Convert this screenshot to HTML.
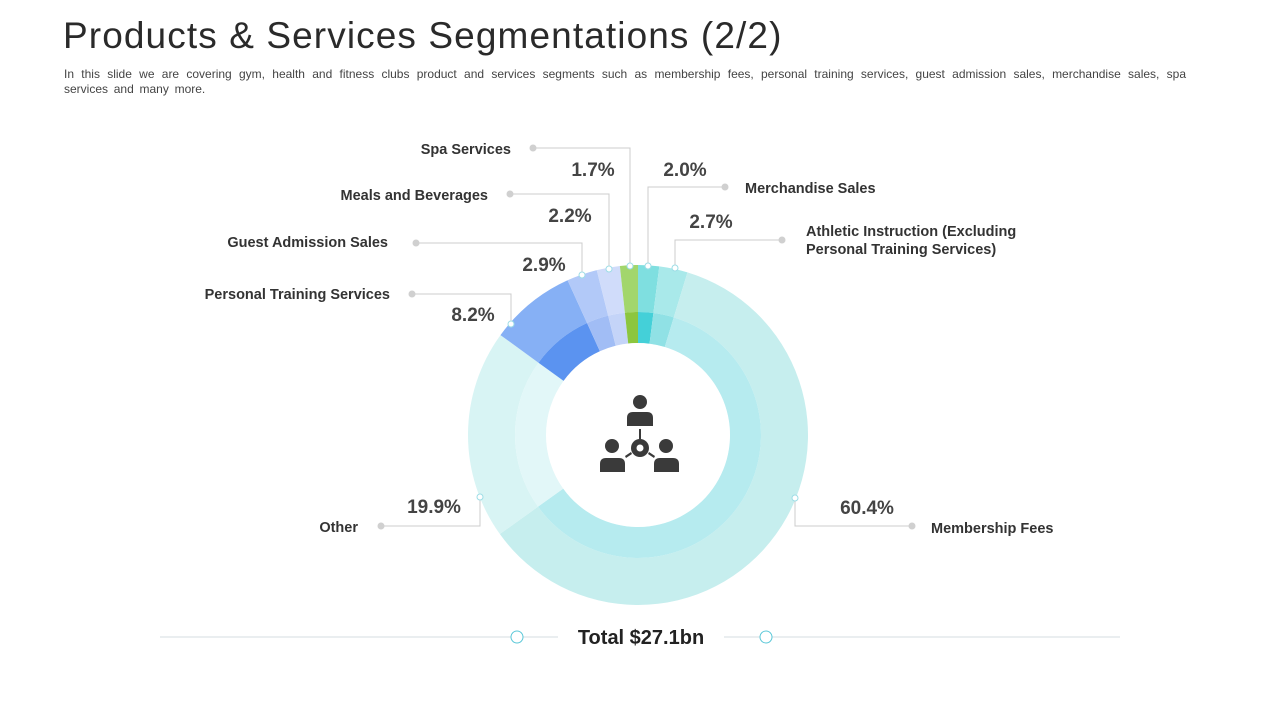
<!DOCTYPE html>
<html><head><meta charset="utf-8"><style>
body{margin:0;width:1280px;height:720px;background:#fff;overflow:hidden;font-family:"Liberation Sans",sans-serif}
#title{position:absolute;left:63px;top:15px;font-size:37px;color:#2a2a2a;letter-spacing:1.1px;margin:0;font-weight:normal}
#sub{position:absolute;left:64px;top:67px;width:1122px;font-size:12px;line-height:15px;color:#444;text-align:justify;word-spacing:2.4px}
</style></head><body>
<h1 id="title">Products &amp; Services Segmentations (2/2)</h1>
<div id="sub">In this slide we are covering gym, health and fitness clubs product and services segments such as membership fees, personal training services, guest admission sales, merchandise sales, spa services and many more.</div>
<svg id="chart" width="1280" height="720" style="position:absolute;left:0;top:0"></svg>
<script>
const categories=["Merchandise Sales","Athletic Instruction","Membership Fees","Other","Personal Training Services","Guest Admission Sales","Meals and Beverages","Spa Services"];
const values=[2.0,2.7,60.4,19.9,8.2,2.9,2.2,1.7];
const valueLabels=["2.0%","2.7%","60.4%","19.9%","8.2%","2.9%","2.2%","1.7%"];
const outerColors=["#7fdfe0","#a9e9ea","#c6eeee","#d8f4f4","#86b0f5","#b2c9f8","#d0dcfa","#a2d66c"];
const innerColors=["#44d0d8","#90e1e5","#b6ebef","#e2f7f8","#5b93f0","#a1bdf5","#c4d4f8","#8cc63f"];
const NS="http://www.w3.org/2000/svg";
const svg=document.getElementById('chart');
const cx=638,cy=435,R1=170,R2=123,R3=92,R4=87;
const total=values.reduce((a,b)=>a+b,0);
function ang(v){return v/total*2*Math.PI;}
function pt(r,a){return [cx+r*Math.sin(a),cy-r*Math.cos(a)];}
function arc(r0,r1,a0,a1){const l=a1-a0>Math.PI?1:0;const p=pt(r1,a0),q=pt(r1,a1),s=pt(r0,a1),t=pt(r0,a0);
return `M${p}A${r1},${r1} 0 ${l} 1 ${q}L${s}A${r0},${r0} 0 ${l} 0 ${t}Z`;}
function mk(tag,attrs){const e=document.createElementNS(NS,tag);for(const k in attrs)e.setAttribute(k,attrs[k]);svg.appendChild(e);return e;}
let acc=0;
values.forEach((v,i)=>{const a0=ang(acc),a1=ang(acc+v);acc+=v;
const o=mk('path',{d:arc(R2,R1,a0,a1),fill:outerColors[i]});


const n=mk('path',{d:arc(R3,R2,a0,a1),fill:innerColors[i]});


const m=mk('path',{d:arc(R4,R3,a0,a1),fill:'#fff','fill-opacity':0.45});


});
const hole=mk('circle',{cx:cx,cy:cy,r:R4,fill:'#fff'});


const leaders=[[648,266,187,725],[675,268,240,782],[795,498,526,912],[480,497,526,381],[511,324,294,412],[582,275,243,416],[609,269,194,510],[630,266,148,533]];
const labelPos=[[745,193,'start'],[806,236,'start'],[931,533,'start'],[358,532,'end'],[390,299,'end'],[388,247,'end'],[488,200,'end'],[511,154,'end']];
const pctPos=[[685,176],[711,228],[867,514],[434,513],[473,321],[544,271],[570,222],[593,176]];
leaders.forEach((l,i)=>{
const p=mk('polyline',{points:`${l[0]},${l[1]} ${l[0]},${l[2]} ${l[3]},${l[2]}`,fill:'none',stroke:'#ccc','stroke-width':1});


const d=mk('circle',{cx:l[3],cy:l[2],r:3.5,fill:'#d0d0d0'});


const a=mk('circle',{cx:l[0],cy:l[1],r:3,fill:'#fff',stroke:'#9ddde6','stroke-width':1});


});
categories.forEach((c,i)=>{
const lp=labelPos[i];
if(i===1){
const t=mk('text',{x:lp[0],y:lp[1],'font-size':14.5,'font-weight':'bold',fill:'#333','text-anchor':'start'});
t.textContent='Athletic Instruction (Excluding';


const t2=mk('text',{x:lp[0],y:lp[1]+18,'font-size':14.5,'font-weight':'bold',fill:'#333','text-anchor':'start'});
t2.textContent='Personal Training Services)';


}else{
const t=mk('text',{x:lp[0],y:lp[1],'font-size':14.5,'font-weight':'bold',fill:'#333','text-anchor':lp[2]});
t.textContent=c;


}
const pp=pctPos[i];
const v=mk('text',{x:pp[0],y:pp[1],'font-size':19,'font-weight':'bold',fill:'#444','text-anchor':'middle'});
v.textContent=valueLabels[i];


});
const tl1=mk('line',{x1:160,y1:637,x2:558,y2:637,stroke:'#d6dde0'});


const tl2=mk('line',{x1:724,y1:637,x2:1120,y2:637,stroke:'#d6dde0'});


[517,766].forEach((x,i)=>{const c=mk('circle',{cx:x,cy:637,r:6,fill:'#fff',stroke:'#5bc8d8','stroke-width':1});

});
const tt=mk('text',{x:641,y:644,'font-size':20,'font-weight':'bold',fill:'#222','text-anchor':'middle'});
tt.textContent='Total $27.1bn';


const g=document.createElementNS(NS,'g');g.setAttribute('fill','#3a3a3a');svg.appendChild(g);


g.innerHTML=`<circle cx="640" cy="402" r="7"/><path d="M627 426v-8q0-6 6-6h14q6 0 6 6v8z"/>
<circle cx="612" cy="446" r="7"/><path d="M600 472v-8q0-6 6-6h13q6 0 6 6v8z"/>
<circle cx="666" cy="446" r="7"/><path d="M654 472v-8q0-6 6-6h13q6 0 6 6v8z"/>
<circle cx="640" cy="448" r="9"/><circle cx="640" cy="448" r="3.5" fill="#fff"/>
<rect x="639" y="429" width="2" height="10"/><path d="M631 452l-6 4 1 2 6-4zM649 452l6 4-1 2-6-4z"/>`;
</script>
</body></html>
